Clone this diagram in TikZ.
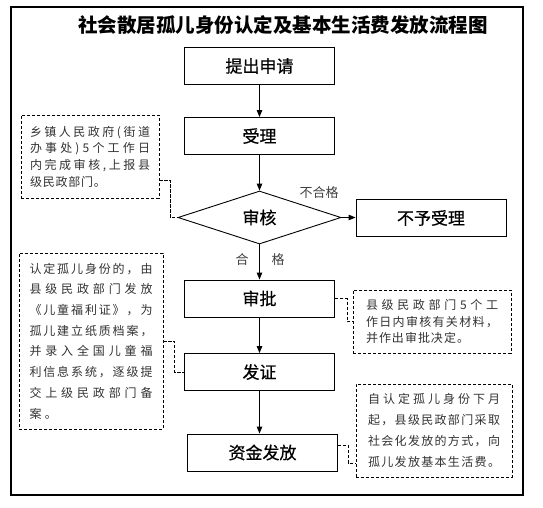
\documentclass[tikz,border=0pt]{standalone}
\usepackage{fontspec}
\newfontfamily\cjk{Noto Sans CJK SC}
\newfontfamily\cjkm[FakeBold=0.6]{Noto Sans CJK SC}
\usetikzlibrary{arrows.meta,shapes.geometric,calc}
\def\jusA#1#2{#1\ifx\relax#2\else\hfill\expandafter\jusA\expandafter#2\fi}
\newcommand\jl[2]{\hbox to #1{\jusA#2\relax}}
\newdimen\fixgap
\def\fixA#1#2{#1\ifx\relax#2\else\hskip\fixgap\expandafter\fixA\expandafter#2\fi}
\newcommand\fl[3]{\hbox to #1{\fixgap=#2\fixA#3\relax\hfil}}
\begin{document}
\begin{tikzpicture}[x=1pt,y=-1pt,
 box/.style={draw,line width=0.9pt,minimum width=150pt,minimum height=37pt,inner sep=0pt,font=\cjkm\fontsize{17}{17}\selectfont},
 decision/.style={diamond,draw,line width=0.9pt,minimum width=163pt,minimum height=53pt,inner sep=0pt,font=\cjkm\fontsize{17}{17}\selectfont},
 note/.style={draw,line width=0.7pt,dash pattern=on 3.2pt off 1.8pt,inner sep=0pt,font=\cjk\fontsize{12}{12}\selectfont,text=black!80},
 arr/.style={line width=0.9pt,-{Triangle[length=7pt,width=5.5pt]}},
 link/.style={line width=0.7pt,dash pattern=on 3.2pt off 1.8pt},
 lbl/.style={font=\cjk\fontsize{13}{13}\selectfont,text=black!75,inner sep=0pt}]
\useasboundingbox (0,0) rectangle (543,507);
\fill[white] (0,0) rectangle (543,507);
\draw[line width=1.1pt] (11,7) rectangle (523,495);
\node[font=\cjk\bfseries\fontsize{19.5}{19.5}\selectfont,inner sep=0pt] (title) at (283,25) {社会散居孤儿身份认定及基本生活费发放流程图};
\node[box] (sq) at (259.5,66) {提出申请};
\node[box] (sl) at (259.5,136) {受理};
\node[decision] (sh) at (259.5,217.5) {审核};
\node[box] (bysl) at (431,218) {不予受理};
\node[box] (sp) at (259.5,298.5) {审批};
\node[box] (fz) at (259.5,372) {发证};
\node[box] (zj) at (262.5,452.5) {资金发放};
\node[lbl] (bhg) at (319,193) {不合格};
\node[lbl] (hg1) at (242,260) {合};
\node[lbl] (hg2) at (278,260) {格};
\node[note,minimum width=138pt,minimum height=83pt] (n1) at (90,156.5) {\vbox{\baselineskip=16.7pt
 \jl{120pt}{乡镇人民政府(街道}
 \jl{120pt}{办事处)5个工作日}
 \jl{120pt}{内完成审核,上报县}
 \fl{120pt}{0.8pt}{级民政部门。}}};
\node[note,minimum width=144pt,minimum height=176pt] (n2) at (91,341) {\vbox{\baselineskip=20.7pt
 \jl{123pt}{认定孤儿身份的，由}
 \jl{123pt}{县级民政部门发放}
 \jl{123pt}{《儿童福利证》，为}
 \jl{123pt}{孤儿建立纸质档案，}
 \jl{123pt}{并录入全国儿童福}
 \jl{123pt}{利信息系统，逐级提}
 \jl{123pt}{交上级民政部门备}
 \fl{123pt}{3.4pt}{案。}}};
\node[note,minimum width=158pt,minimum height=63pt] (n3) at (432,321.5) {\vbox{\baselineskip=16.7pt
 \jl{132pt}{县级民政部门5个工}
 \jl{132pt}{作日内审核有关材料，}
 \fl{132pt}{1pt}{并作出审批决定。}}};
\node[note,minimum width=156pt,minimum height=93pt] (n4) at (434,430.5) {\vbox{\baselineskip=20.8pt
 \jl{132pt}{自认定孤儿身份下月}
 \jl{132pt}{起，县级民政部门采取}
 \jl{132pt}{社会化发放的方式，向}
 \jl{132pt}{孤儿发放基本生活费。}}};
\draw[arr] (sq.south) -- (sl.north);
\draw[arr] (sl.south) -- (sh.north);
\draw[arr] (sh.east) -- (sh.east -| bysl.west);
\draw[arr] (sh.south) -- (sp.north);
\draw[arr] (sp.south) -- (fz.north);
\draw[arr] (fz.south) -- (fz.south |- zj.north);
\draw[link] ($(n1.south east)+(0,-18)$) -- ++(11,0) |- (sh.west);
\draw[link] (n2.east) -- ++(11,0) |- (fz.west);
\draw[link] (sp.east) -- ++(12,0) |- (n3.west);
\draw[link] ($(zj.east)+(0,-7.5)$) -- ++(10,0) |- ($(n4.west)+(0,32.5)$);
\end{tikzpicture}
\end{document}
